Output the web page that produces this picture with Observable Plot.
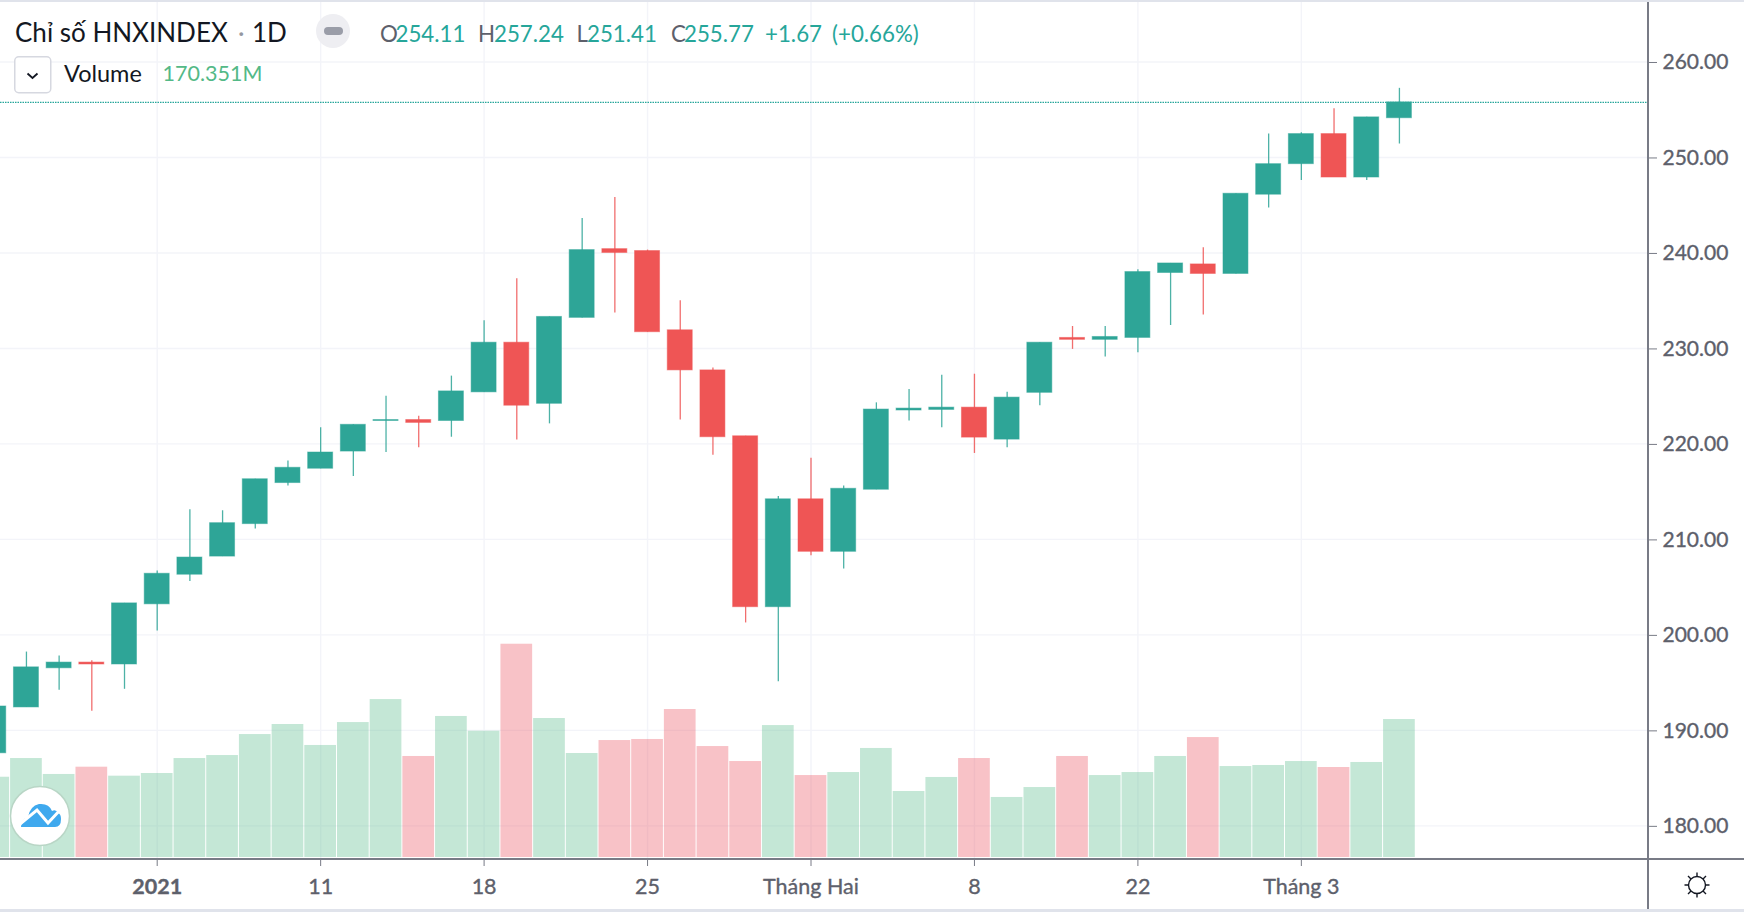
<!DOCTYPE html>
<html lang="vi">
<head>
<meta charset="utf-8">
<title>Chỉ số HNXINDEX</title>
<script src="https://cdn.jsdelivr.net/npm/d3@7"></script>
<script src="https://cdn.jsdelivr.net/npm/@observablehq/plot@0.6"></script>
<style>
  html, body { margin: 0; padding: 0; background: #fff; overflow: hidden; }
  #stage { position: relative; width: 1744px; height: 912px; overflow: hidden; font-family: Lato, "Noto Sans", sans-serif; }
  #stage svg.layer { position: absolute; left: 0; top: 0; background: transparent; max-width: none; }
  #stage svg.layer text { stroke: #5d606b; stroke-width: 0.35px; }
  .band { position: absolute; background: #e0e3eb; left: 0; width: 1744px; }
  .rule { position: absolute; background: #787b86; }
  .t { position: absolute; white-space: nowrap; line-height: 1; }
</style>
</head>
<body>
<div id="stage"></div>
<script>
// Sessions: index 0 is the first session of 2021
const firstSession = -5;
const opens  = [187.6,192.4,196.5,197.1,196.9,203.2,206.3,208.2,211.6,215.9,217.4,219.2,222.4,222.5,222.4,225.4,230.6,224.2,233.2,240.4,240.2,231.9,227.7,220.8,202.9,214.2,208.7,215.2,223.5,223.56,223.8,220.45,225.35,231.1,230.9,231.1,237.9,238.8,237.8,246.1,249.3,252.45,247.9,254.11];
const highs  = [192.5,198.2,197.8,197.3,203.3,206.7,213.1,213.0,216.3,218.2,221.7,222.0,225.0,222.9,227.1,232.9,237.3,233.3,243.6,245.8,240.3,235.0,227.95,220.8,214.5,218.5,215.6,224.3,225.7,227.2,227.3,225.4,230.6,232.3,232.3,238.25,238.9,240.55,246.2,252.45,252.6,255.1,254.2,257.24];
const lows   = [187.6,192.4,194.2,192.0,194.3,200.4,205.6,208.2,211.1,215.6,217.4,216.6,219.1,219.6,220.7,225.4,220.4,222.1,233.2,233.7,231.7,222.5,218.8,201.25,195.1,208.3,206.9,215.2,222.4,221.7,219.0,219.6,224.0,229.9,229.1,229.55,232.4,233.5,237.8,244.7,247.6,247.9,247.6,251.41];
const closes = [192.5,196.6,197.1,196.9,203.3,206.4,208.1,211.7,216.3,217.5,219.1,222.0,222.5,222.2,225.5,230.6,224.0,233.3,240.3,240.0,231.7,227.7,220.7,202.9,214.2,208.7,215.3,223.6,223.7,223.8,220.66,224.85,230.6,230.9,231.2,238.0,238.9,237.8,246.2,249.3,252.45,247.9,254.2,255.77];
const volumes = [99.1,122.2,102.5,111.5,100.4,103.7,122.2,125.9,151.8,164.2,138.3,166.6,195.0,124.7,174.1,155.9,263.3,171.6,128.4,144.4,145.7,182.7,137.0,118.5,162.9,101.2,104.9,134.6,81.5,98.8,122.2,74.1,86.4,124.7,101.2,104.9,124.7,148.1,112.3,113.6,118.5,111.1,117.3,170.351];
const priceTicks = [180,190,200,210,220,230,240,250,260];
const dateTicks = [0,5,10,15,20,25,30,35];
const dateLabels = ["2021","11","18","25","Tháng Hai","8","22","Tháng 3"];
const lastClose = 255.77;

const rows = opens.map((o, k) => ({
  i: firstSession + k, open: o, high: highs[k], low: lows[k], close: closes[k],
  volume: volumes[k], dir: closes[k] >= o ? "up" : "down"
}));

const W = 1744, H = 912, axisX0 = 1648;
const xDomain = [-156.7 / 32.69, (axisX0 - 156.7) / 32.69];
const xScale = { domain: xDomain, range: [0, axisX0] };
const FONT = 'Lato, "Noto Sans", sans-serif';
const axisGrey = "#787b86", textGrey = "#5d606b", gridCol = "#f3f4f9";
const bodyHalf = 0.382, volHalf = 0.485;
const labelOf = d => dateLabels[dateTicks.indexOf(d)];

const price = Plot.plot({
  width: W, height: H,
  marginLeft: 0, marginRight: W - axisX0, marginTop: 2, marginBottom: H - 858,
  style: { background: "transparent", fontFamily: FONT, fontSize: "20px" },
  x: { ...xScale, axis: null },
  y: { domain: [176.58, 266.23], axis: null },
  color: { domain: ["up", "down"], range: ["#2ea597", "#ef5555"] },
  marks: [
    Plot.gridY(priceTicks, { stroke: gridCol, strokeOpacity: 1, strokeWidth: 1.4 }),
    Plot.gridX(dateTicks, { stroke: gridCol, strokeOpacity: 1, strokeWidth: 1.4 }),
    Plot.ruleY([lastClose], { stroke: "#26a69a", strokeWidth: 1.2, strokeDasharray: "1.5,1" }),
    Plot.ruleX(rows, { x: "i", y1: "low", y2: "high", stroke: "dir", strokeWidth: 1.3, strokeOpacity: 0.85 }),
    Plot.rect(rows, {
      x1: d => d.i - bodyHalf, x2: d => d.i + bodyHalf,
      y1: "open", y2: "close", fill: "dir", stroke: "dir", strokeOpacity: 0.5, strokeWidth: 1
    }),
    Plot.axisY(priceTicks, {
      anchor: "right", label: null, tickSize: 8, tickPadding: 6, dy: 0.5,
      tickFormat: d => d.toFixed(2), stroke: axisGrey, fill: textGrey, fontSize: 21
    }),
    Plot.axisX(dateTicks.filter(d => d !== 0), {
      anchor: "bottom", label: null, tickSize: 8, tickPadding: 12,
      tickFormat: labelOf, stroke: axisGrey, fill: textGrey, fontSize: 21.5
    }),
    Plot.axisX([0], {
      anchor: "bottom", label: null, tickSize: 8, tickPadding: 12,
      tickFormat: labelOf, stroke: axisGrey, fill: textGrey, fontSize: 21.5, fontWeight: 700
    })
  ]
});
price.setAttribute("class", price.getAttribute("class") + " layer");

const volume = Plot.plot({
  width: W, height: H,
  marginLeft: 0, marginRight: W - axisX0, marginTop: 0, marginBottom: 0,
  style: { background: "transparent" },
  x: { ...xScale, axis: null },
  y: { domain: [0, 300], range: [857, 614], axis: null },
  color: { domain: ["up", "down"], range: ["rgb(83,185,135)", "rgb(235,77,92)"] },
  marks: [
    Plot.rectY(rows, {
      x1: d => d.i - volHalf, x2: d => d.i + volHalf,
      y: "volume", fill: "dir", fillOpacity: 0.34
    })
  ]
});
volume.setAttribute("class", volume.getAttribute("class") + " layer");

const stage = document.getElementById("stage");
stage.append(price, volume);

function el(html) { const t = document.createElement("template"); t.innerHTML = html.trim(); return t.content.firstChild; }
function text(x, yc, size, color, str, extra = "") {
  stage.append(el(`<div class="t" style="left:${x}px;top:${yc - size * 0.54}px;font-size:${size}px;color:${color};${extra}">${str}</div>`));
}

// Panel frame
stage.append(el('<div class="band" style="top:0;height:2px"></div>'));
stage.append(el('<div class="band" style="top:909px;height:3px"></div>'));
stage.append(el(`<div class="rule" style="left:0;top:857.5px;width:${W}px;height:2.2px"></div>`));
stage.append(el(`<div class="rule" style="left:${axisX0 - 0.6}px;top:2px;width:1.3px;height:907px"></div>`));

// Legend, first row
text(15, 33, 26, "#131722", "Chỉ số HNXINDEX");
text(238, 33, 25, "#9598a1", "·");
text(252, 33, 26, "#131722", "1D");
stage.append(el('<div style="position:absolute;left:316px;top:14px;width:34px;height:34px;border-radius:17px;background:#eeeef2"></div>'));
stage.append(el('<div style="position:absolute;left:324px;top:27px;width:19px;height:8px;border-radius:4px;background:#9a9da8"></div>'));
const sz = 22.3;
text(380, 35, sz, "#5d606b", "O");
text(395.5, 35, sz, "#26a69a", "254.11");
text(478, 35, sz, "#5d606b", "H");
text(494, 35, sz, "#26a69a", "257.24");
text(576.5, 35, sz, "#5d606b", "L");
text(587, 35, sz, "#26a69a", "251.41");
text(671, 35, sz, "#5d606b", "C");
text(684, 35, sz, "#26a69a", "255.77");
text(765, 35, sz, "#26a69a", "+1.67");
text(832, 35, sz, "#26a69a", "(+0.66%)");

// Legend, second row
stage.append(el(`<svg style="position:absolute;left:14px;top:56px" width="38" height="38">
  <rect x="0.75" y="0.75" width="36" height="36" rx="4" fill="#fff" stroke="#d6d8e0" stroke-width="1.5"/>
  <path d="M13.5 17.5 L18.5 22 L23.5 17.5" fill="none" stroke="#131722" stroke-width="1.8"/></svg>`));
text(64, 74.5, 23.5, "#131722", "Volume");
text(162.5, 74.5, 21.5, "#53b987", "170.351M");

// Logo badge
stage.append(el(`<svg style="position:absolute;left:8px;top:784px" width="64" height="64" viewBox="0 0 64 64">
  <circle cx="32" cy="32" r="29.5" fill="#fff" stroke="#b9d6c6" stroke-width="1.5"/>
  <path d="M13 43 Q13 35 20 33 Q22 22 31 20 Q41 19 44 27 Q48 25 50 29 Q53 30 53 35 Q53 43 47 43 Z" fill="#3fa9ee"/>
  <path d="M12 40 L29 26 L40 39 L53 25" fill="none" stroke="#fff" stroke-width="3"/></svg>`));

// Sun icon
stage.append(el(`<svg style="position:absolute;left:1683px;top:871px" width="28" height="28" viewBox="0 0 28 28" fill="none" stroke="#131722" stroke-width="1.4">
  <circle cx="14" cy="14" r="8.5"/>
  <path d="M14 1.5V5.5M14 22.5V26.5M1.5 14H5.5M22.5 14H26.5M5 5L8 8M20 20L23 23M23 5L20 8M8 20L5 23"/></svg>`));
</script>
</body>
</html>
